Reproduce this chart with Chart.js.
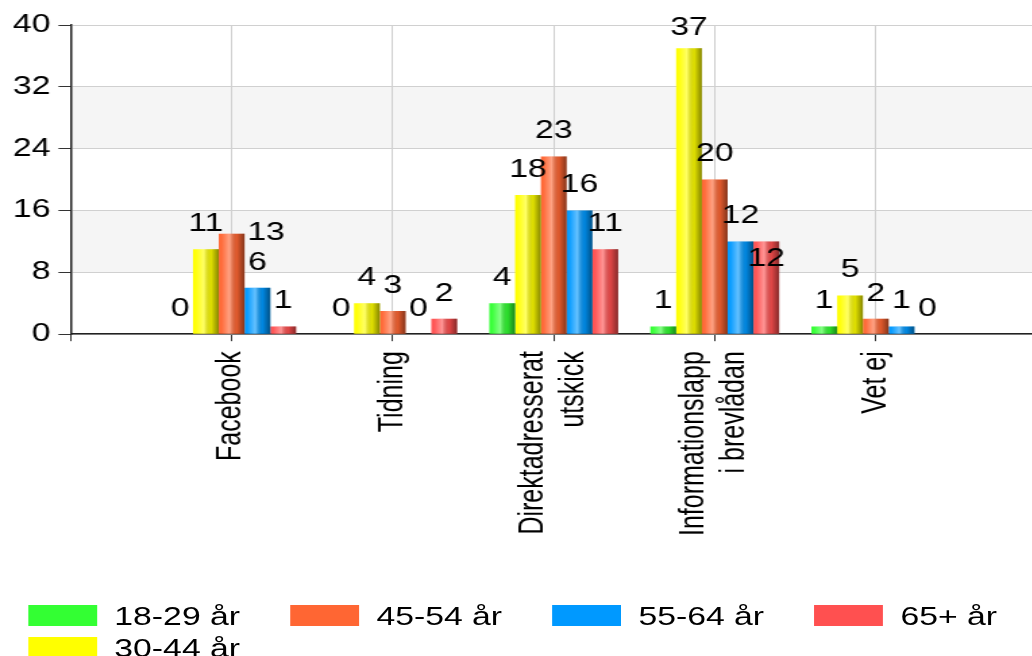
<!DOCTYPE html>
<html>
<head>
<meta charset="utf-8">
<script src="https://cdn.jsdelivr.net/npm/chart.js@4.4.1/dist/chart.umd.min.js"></script>
<style>
  html, body { margin: 0; padding: 0; background: #fff; }
  #frame { position: relative; width: 1032px; height: 656px; overflow: hidden; }
  /* the source picture is stretched sideways, so draw narrow and stretch */
  #stage { position: absolute; left: 0; top: 0; width: 768px; height: 656px; transform: scaleX(1.35); transform-origin: 0 0; }
  #chart { position: absolute; left: 0; top: 0; }
  .item { position: absolute; height: 21px; font: 25px "Liberation Sans", Arial, sans-serif; color: #000; white-space: nowrap; }
  .swatch { position: absolute; left: 0; top: 0; width: 51px; height: 21px; }
  .item span { position: absolute; left: 64px; top: 50%; transform: translateY(-50%); line-height: 1; }
</style>
</head>
<body>
<div id="frame">
  <div id="stage">
    <canvas id="chart" width="768" height="560"></canvas>
    <div id="legend"></div>
  </div>
</div>
<script>
const categories = [['Facebook'], ['Tidning'], ['Direktadresserat', 'utskick'], ['Informationslapp', 'i brevlådan'], ['Vet ej']]
const seriesNames = ['18-29 år', '30-44 år', '45-54 år', '55-64 år', '65+ år']
const age18to29 = [0, 0, 4, 1, 1]
const age30to44 = [11, 4, 18, 37, 5]
const age45to54 = [13, 3, 23, 20, 2]
const age55to64 = [6, 0, 16, 12, 1]
const age65plus = [1, 2, 11, 12, 0]
const yTicks = [0, 8, 16, 24, 32, 40]
const colors = ['#33ff33', '#ffff00', '#ff6633', '#0099ff', '#ff5050']
const legendOrder = [0, 2, 3, 4, 1]

const FONT = '"Liberation Sans", Arial, sans-serif'
const series = [age18to29, age30to44, age45to54, age55to64, age65plus]

// empty slot on each side, like the original axis
const labels = [''].concat(categories, [''])

const datasets = series.map((values, i) => ({
  label: seriesNames[i],
  data: [null].concat(values, [null]),
  backgroundColor: colors[i],
  borderWidth: 0,
  categoryPercentage: 0.8,
  barPercentage: 1.0,
}))

const backdrop = {
  id: 'backdrop',
  beforeDraw(chart) {
    const { ctx, chartArea } = chart
    const y = chart.scales.y
    ctx.save()
    ctx.fillStyle = '#fff'
    ctx.fillRect(0, 0, chart.width, chart.height)
    ctx.fillStyle = '#f5f5f5'
    for (let k = 1; k < yTicks.length - 1; k += 2) {
      const top = y.getPixelForValue(yTicks[k + 1])
      const bottom = y.getPixelForValue(yTicks[k])
      ctx.fillRect(chartArea.left, top, chartArea.right - chartArea.left, bottom - top)
    }
    ctx.restore()
  }
}

const barDecor = {
  id: 'barDecor',
  afterDatasetsDraw(chart) {
    const ctx = chart.ctx
    const area = chart.chartArea
    ctx.save()

    // cylinder shading over every bar
    chart.data.datasets.forEach((ds, d) => {
      chart.getDatasetMeta(d).data.forEach((bar) => {
        const { x, y, base, width } = bar.getProps(['x', 'y', 'base', 'width'])
        if (!isFinite(y) || base - y < 0.5) return
        const left = x - width / 2
        const g = ctx.createLinearGradient(left, 0, left + width, 0)
        g.addColorStop(0, 'rgba(255,255,255,0)')
        g.addColorStop(0.12, 'rgba(255,255,255,0.05)')
        g.addColorStop(0.42, 'rgba(255,255,255,0.4)')
        g.addColorStop(0.7, 'rgba(0,0,0,0.12)')
        g.addColorStop(1, 'rgba(0,0,0,0.48)')
        ctx.fillStyle = g
        ctx.fillRect(left, y, width, base - y)
      })
    })

    // value labels, nudged when two would overlap
    ctx.font = '25px ' + FONT
    ctx.fillStyle = '#000'
    ctx.textAlign = 'center'
    ctx.textBaseline = 'middle'
    const placed = []
    const box = (cx, cy, w) => ({ l: cx - w / 2, r: cx + w / 2, t: cy - 12, b: cy + 12 })
    const hit = (b) => placed.some(p => b.l < p.r && b.r > p.l && b.t < p.b && b.b > p.t)
    const last = chart.data.datasets.length - 1
    chart.data.labels.forEach((_, i) => {
      chart.data.datasets.forEach((ds, d) => {
        const v = ds.data[i]
        if (v === null || v === undefined) return
        const bar = chart.getDatasetMeta(d).data[i]
        const text = String(v)
        const w = ctx.measureText(text).width
        let x = bar.x
        let y = Math.max(bar.y - 25, area.top + 3)
        if (hit(box(x, y, w))) {
          if (d < last) {
            x = bar.x + bar.width / 2 + 2 + w / 2
            y = bar.y - 1
          } else {
            y = bar.y + 18
          }
        }
        placed.push(box(x, y, w))
        ctx.fillText(text, x, y)
      })
    })
    ctx.restore()
  }
}

// rotated category names, each block centred on its tick
const xNames = {
  id: 'xNames',
  afterDraw(chart) {
    const ctx = chart.ctx
    const xs = chart.scales.x
    const lineHeight = 30
    ctx.save()
    ctx.font = '25px ' + FONT
    ctx.fillStyle = '#000'
    ctx.textAlign = 'right'
    ctx.textBaseline = 'middle'
    labels.forEach((lines, i) => {
      if (!Array.isArray(lines)) return
      const px = xs.getPixelForTick(i)
      ctx.save()
      ctx.translate(px, xs.top + 17)
      ctx.rotate(-Math.PI / 2)
      lines.forEach((line, k) => {
        ctx.fillText(line, 0, (k - (lines.length - 1) / 2) * lineHeight)
      })
      ctx.restore()
    })
    ctx.restore()
  }
}

new Chart(document.getElementById('chart'), {
  type: 'bar',
  data: { labels, datasets },
  options: {
    responsive: false,
    animation: false,
    events: [],
    layout: { padding: { left: 3.5, right: 0, top: 25, bottom: 14 } },
    plugins: { legend: { display: false }, tooltip: { enabled: false } },
    scales: {
      x: {
        offset: false,
        grid: { offset: false, color: '#d0d0d0', lineWidth: 1, tickColor: '#333', tickLength: 7 },
        border: { color: '#222', width: 1.5 },
        ticks: {
          autoSkip: false, minRotation: 90, maxRotation: 90, padding: 10,
          color: 'rgba(0,0,0,0)', font: { family: FONT, size: 25, lineHeight: 1.2 }
        },
        afterFit(scale) { scale.paddingLeft = 0; scale.paddingRight = 0 }
      },
      y: {
        min: yTicks[0],
        max: yTicks[yTicks.length - 1],
        grid: { color: '#d0d0d0', lineWidth: 1, tickColor: '#333', tickLength: 9 },
        border: { color: '#222', width: 1.5 },
        ticks: { stepSize: yTicks[1] - yTicks[0], padding: 6, color: '#000', font: { family: FONT, size: 25 } }
      }
    }
  },
  plugins: [backdrop, barDecor, xNames]
})

// legend laid out in the original's grid
const legend = document.getElementById('legend')
legendOrder.forEach((s, n) => {
  const item = document.createElement('div')
  item.className = 'item'
  item.style.left = (20.7 + (n % 4) * 194.1) + 'px'
  item.style.top = (605 + Math.floor(n / 4) * 32) + 'px'
  item.innerHTML = '<div class="swatch" style="background:' + colors[s] + '"></div><span>' + seriesNames[s] + '</span>'
  legend.appendChild(item)
})
</script>
</body>
</html>
